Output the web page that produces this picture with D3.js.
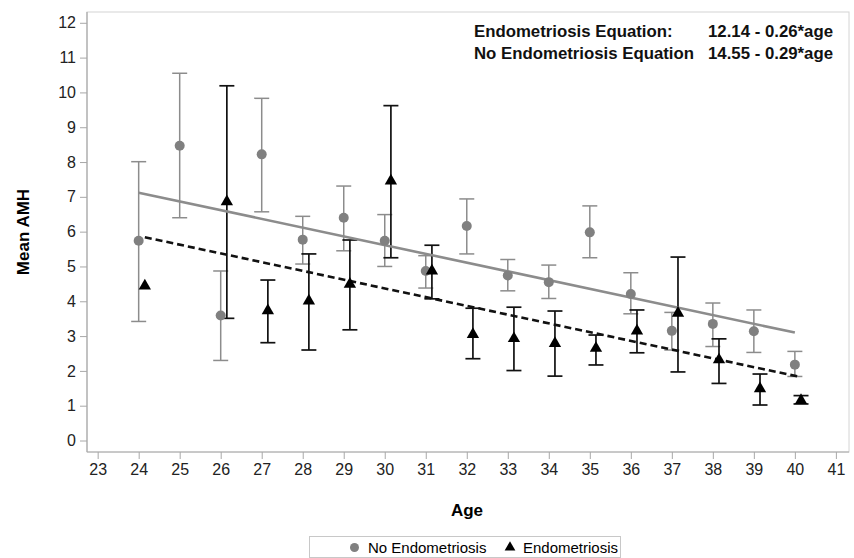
<!DOCTYPE html>
<html>
<head>
<meta charset="utf-8">
<script src="https://cdn.jsdelivr.net/npm/d3@7"></script>
<style>
  body { margin: 0; background: #fff; }
  text { font-family: "Liberation Sans", Arial, sans-serif; }
</style>
</head>
<body>
<div id="chart"></div>
<script>
// No Endometriosis (gray circles)
var ages = [24, 25, 26, 27, 28, 29, 30, 31, 32, 33, 34, 35, 36, 37, 38, 39, 40];
var noEndoMean  = [5.74, 8.47, 3.59, 8.22, 5.77, 6.40, 5.74, 4.87, 6.16, 4.74, 4.55, 5.98, 4.21, 3.15, 3.35, 3.14, 2.18];
var noEndoUpper = [8.01, 10.55, 4.87, 9.83, 6.44, 7.31, 6.49, 5.31, 6.94, 5.20, 5.04, 6.74, 4.82, 3.68, 3.95, 3.75, 2.56];
var noEndoLower = [3.42, 6.40, 2.30, 6.57, 5.07, 5.45, 5.00, 4.38, 5.36, 4.30, 4.08, 5.25, 3.64, 2.60, 2.70, 2.53, 1.84];

// Endometriosis (black triangles)
var endoAges  = [24, 26, 27, 28, 29, 30, 31, 32, 33, 34, 35, 36, 37, 38, 39, 40];
var endoMean  = [4.44, 6.86, 3.73, 4.01, 4.49, 7.46, 4.87, 3.05, 2.93, 2.79, 2.65, 3.15, 3.66, 2.32, 1.49, 1.15];
var endoUpper = [4.44, 10.19, 4.61, 5.36, 5.76, 9.62, 5.61, 3.80, 3.83, 3.72, 3.03, 3.75, 5.27, 2.92, 1.91, 1.29];
var endoLower = [4.44, 3.51, 2.81, 2.60, 3.18, 5.25, 4.07, 2.35, 2.01, 1.85, 2.17, 2.52, 1.97, 1.64, 1.02, 1.05];

// fitted lines as drawn (start / end)
var noEndoFitAge = [24, 40];
var noEndoFitAmh = [7.12, 3.10];
var endoFitAge = [24, 40];
var endoFitAmh = [5.84, 1.82];

var xTicks = [23, 24, 25, 26, 27, 28, 29, 30, 31, 32, 33, 34, 35, 36, 37, 38, 39, 40, 41];
var yTicks = [0, 1, 2, 3, 4, 5, 6, 7, 8, 9, 10, 11, 12];

var equationLabels = ["Endometriosis Equation:", "No Endometriosis Equation"];
var equationValues = ["12.14 - 0.26*age", "14.55 - 0.29*age"];
var legendLabels = ["No Endometriosis", "Endometriosis"];

var svgWidth = 854;
var svgHeight = 558;
var plot = { left: 87, right: 849, top: 12, bottom: 452 };
var jitter = 0.15;

var svg = d3.select("#chart")
  .append("svg")
  .attr("width", svgWidth)
  .attr("height", svgHeight);

var x = d3.scaleLinear()
  .domain([22.74, 41.32])
  .range([plot.left, plot.right]);

var y = d3.scaleLinear()
  .domain([-0.33, 12.31])
  .range([plot.bottom, plot.top]);

// frame
svg.append("rect")
  .attr("x", plot.left)
  .attr("y", plot.top)
  .attr("width", plot.right - plot.left)
  .attr("height", plot.bottom - plot.top)
  .attr("fill", "none")
  .attr("stroke", "#d4d4d4");

// Axes
var xAxis = svg.append("g")
  .attr("transform", `translate(0, ${plot.bottom})`)
  .call(d3.axisBottom(x).tickValues(xTicks).tickSize(7).tickPadding(5).tickFormat(d3.format("d")));

var yAxis = svg.append("g")
  .attr("transform", `translate(${plot.left}, 0)`)
  .call(d3.axisLeft(y).tickValues(yTicks).tickSize(7).tickPadding(4).tickFormat(d3.format("d")));

[xAxis, yAxis].forEach(function(g) {
  g.select(".domain").attr("stroke", "#a8a8a8").attr("stroke-width", 1.2);
  g.selectAll(".tick line").attr("stroke", "#a8a8a8");
  g.selectAll(".tick text")
    .attr("fill", "#222")
    .style("font-size", "16px")
    .style("font-family", "Liberation Sans, Arial, sans-serif");
});
xAxis.select(".domain").attr("d", `M${plot.left},0H${plot.right}`);
yAxis.select(".domain").attr("d", `M0,${plot.top}V${plot.bottom}`);

// error bars helper
function errorBars(xs, lo, hi, color, width) {
  var g = svg.append("g");
  xs.forEach(function(a, i) {
    if (hi[i] - lo[i] < 0.01) return;
    var cx = x(a);
    g.append("line")
      .attr("x1", cx).attr("x2", cx)
      .attr("y1", y(lo[i])).attr("y2", y(hi[i]))
      .attr("stroke", color).attr("stroke-width", width);
    [lo[i], hi[i]].forEach(function(v) {
      g.append("line")
        .attr("x1", cx - 7.5).attr("x2", cx + 7.5)
        .attr("y1", y(v)).attr("y2", y(v))
        .attr("stroke", color).attr("stroke-width", width);
    });
  });
}

errorBars(ages, noEndoLower, noEndoUpper, "#8c8c8c", 1.5);
errorBars(endoAges.map(d => d + jitter), endoLower, endoUpper, "#111", 1.7);

// fitted lines
var line = d3.line().x(d => x(d[0])).y(d => y(d[1]));

svg.append("path")
  .datum(noEndoFitAge.map((a, i) => [a, noEndoFitAmh[i]]))
  .attr("d", line)
  .attr("fill", "none")
  .attr("stroke", "#8c8c8c")
  .attr("stroke-width", 2.6);

svg.append("path")
  .datum(endoFitAge.map((a, i) => [a + jitter, endoFitAmh[i]]))
  .attr("d", line)
  .attr("fill", "none")
  .attr("stroke", "#111")
  .attr("stroke-width", 2.6)
  .attr("stroke-dasharray", "7,4");

// circles
svg.selectAll(".noendo")
  .data(ages)
  .enter()
  .append("circle")
  .attr("class", "noendo")
  .attr("cx", d => x(d))
  .attr("cy", (d, i) => y(noEndoMean[i]))
  .attr("r", 5)
  .attr("fill", "#808080");

// triangles
var tri = d3.symbol().type(d3.symbolTriangle).size(66);
svg.selectAll(".endo")
  .data(endoAges)
  .enter()
  .append("path")
  .attr("class", "endo")
  .attr("d", tri)
  .attr("transform", (d, i) => `translate(${x(d + jitter)}, ${y(endoMean[i])})`)
  .attr("fill", "#000");

// equations
var eq = svg.append("g")
  .style("font-weight", "bold")
  .style("font-size", "16.8px")
  .attr("fill", "#111");
equationLabels.forEach(function(t, i) {
  eq.append("text").attr("x", 474).attr("y", 37 + i * 21.7).text(t);
  eq.append("text").attr("x", 708).attr("y", 37 + i * 21.7).text(equationValues[i]);
});

// axis titles
svg.append("text")
  .attr("transform", "rotate(-90)")
  .attr("x", -(plot.top + plot.bottom) / 2)
  .attr("y", 29)
  .attr("text-anchor", "middle")
  .style("font-weight", "bold")
  .style("font-size", "17px")
  .text("Mean AMH");

svg.append("text")
  .attr("x", 467)
  .attr("y", 516)
  .attr("text-anchor", "middle")
  .style("font-weight", "bold")
  .style("font-size", "17px")
  .text("Age");

// legend
var legend = svg.append("g");
legend.append("rect")
  .attr("x", 309.5).attr("y", 536.5)
  .attr("width", 311).attr("height", 21)
  .attr("fill", "none")
  .attr("stroke", "#c8c8c8");
legend.append("circle")
  .attr("cx", 354.5).attr("cy", 547.5).attr("r", 4.5)
  .attr("fill", "#808080");
legend.append("text")
  .attr("x", 368).attr("y", 553)
  .style("font-size", "15px")
  .text(legendLabels[0]);
legend.append("path")
  .attr("d", d3.symbol().type(d3.symbolTriangle).size(50))
  .attr("transform", "translate(510, 547.5)");
legend.append("text")
  .attr("x", 523).attr("y", 553)
  .style("font-size", "15px")
  .text(legendLabels[1]);
</script>
</body>
</html>
